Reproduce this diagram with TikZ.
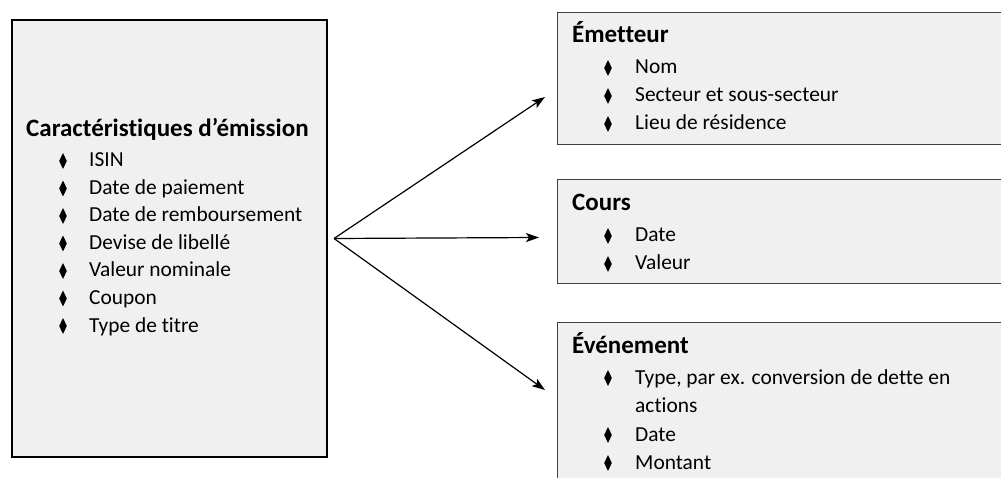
\documentclass[tikz,border=0pt]{standalone}
\usepackage{fontspec}
\setmainfont[Ligatures=NoCommon]{Carlito}
\usetikzlibrary{arrows.meta}
\newcommand\puce[1]{\fill (#1) +(0, -8) -- +(3.8, 0) -- +(0, 8) -- +(-3.8, 0) -- cycle;}
\begin{document}
\begin{tikzpicture}[x=1pt, y=-1pt,
		boite/.style={rectangle, draw=black!75, line width=1pt, fill=black!6, anchor=north west, inner sep=0pt},
		titre/.style={anchor=base west, inner sep=0pt, font=\fontsize{25}{30}\selectfont\bfseries},
		ligne/.style={anchor=base west, inner sep=0pt, font=\fontsize{21.4}{26}\selectfont},
		fleche/.style={-{Stealth[length=13pt, width=9pt, inset=3pt]}, line width=1.2pt}]
	\useasboundingbox (0, 0) rectangle (1001, 478);
	\clip (0, 0) rectangle (1001, 478);

	% caracteristiques
	\node[boite, draw=black, line width=2pt, minimum width=315pt, minimum height=437pt] (carac) at (11, 19) {};
		\node[titre] (tcarac) at (26, 137) {Caractéristiques d’émission};
		\coordinate (p1) at (63, 161);
		\node[ligne] (l1) at (89, 167) {ISIN};
		\coordinate (p2) at (63, 188.5);
		\node[ligne] (l2) at (89, 194.5) {Date de paiement};
		\coordinate (p3) at (63, 216);
		\node[ligne] (l3) at (89, 222) {Date de remboursement};
		\coordinate (p4) at (63, 243.5);
		\node[ligne] (l4) at (89, 249.5) {Devise de libellé};
		\coordinate (p5) at (63, 271);
		\node[ligne] (l5) at (89, 277) {Valeur nominale};
		\coordinate (p6) at (63, 298.5);
		\node[ligne] (l6) at (89, 304.5) {Coupon};
		\coordinate (p7) at (63, 326);
		\node[ligne] (l7) at (89, 332) {Type de titre};

	% emetteur
	\node[boite, minimum width=460pt, minimum height=132pt] (emetteur) at (557, 12) {};
		\node[titre] (temet) at (572, 43) {Émetteur};
		\coordinate (pe1) at (608, 68);
		\node[ligne] (le1) at (635, 74) {Nom};
		\coordinate (pe2) at (608, 96);
		\node[ligne] (le2) at (635, 102) {Secteur et sous-secteur};
		\coordinate (pe3) at (608, 124);
		\node[ligne] (le3) at (635, 130) {Lieu de résidence};

	% cours
	\node[boite, minimum width=460pt, minimum height=104pt] (cours) at (557, 179) {};
		\node[titre] (tcours) at (572, 211) {Cours};
		\coordinate (pc1) at (608, 236);
		\node[ligne] (lc1) at (635, 242) {Date};
		\coordinate (pc2) at (608, 264);
		\node[ligne] (lc2) at (635, 270) {Valeur};

	% evenement
	\node[boite, minimum width=460pt, minimum height=180pt] (evenement) at (557, 322) {};
		\node[titre] (tevt) at (572, 353) {Événement};
		\coordinate (pv1) at (608, 378);
		\node[ligne] (lv1) at (635, 384) {Type, par ex. conversion de dette en};
		\node[ligne] (lv1b) at (635, 412) {actions};
		\coordinate (pv2) at (608, 435);
		\node[ligne] (lv2) at (635, 441) {Date};
		\coordinate (pv3) at (608, 463);
		\node[ligne] (lv3) at (635, 469) {Montant};

	% puces
	\puce{p1} \puce{p2} \puce{p3} \puce{p4} \puce{p5} \puce{p6} \puce{p7}
	\puce{pe1} \puce{pe2} \puce{pe3}
	\puce{pc1} \puce{pc2}
	\puce{pv1} \puce{pv2} \puce{pv3}

	% fleches
	\coordinate (depart) at ([xshift=6pt]carac.east);
	\coordinate (versemet) at (545, 97);
	\coordinate (verscours) at (539, 237.5);
	\coordinate (versevt) at (545, 390);
	\draw[fleche] (depart) -- (versemet);
	\draw[fleche] (depart) -- (verscours);
	\draw[fleche] (depart) -- (versevt);
\end{tikzpicture}
\end{document}
